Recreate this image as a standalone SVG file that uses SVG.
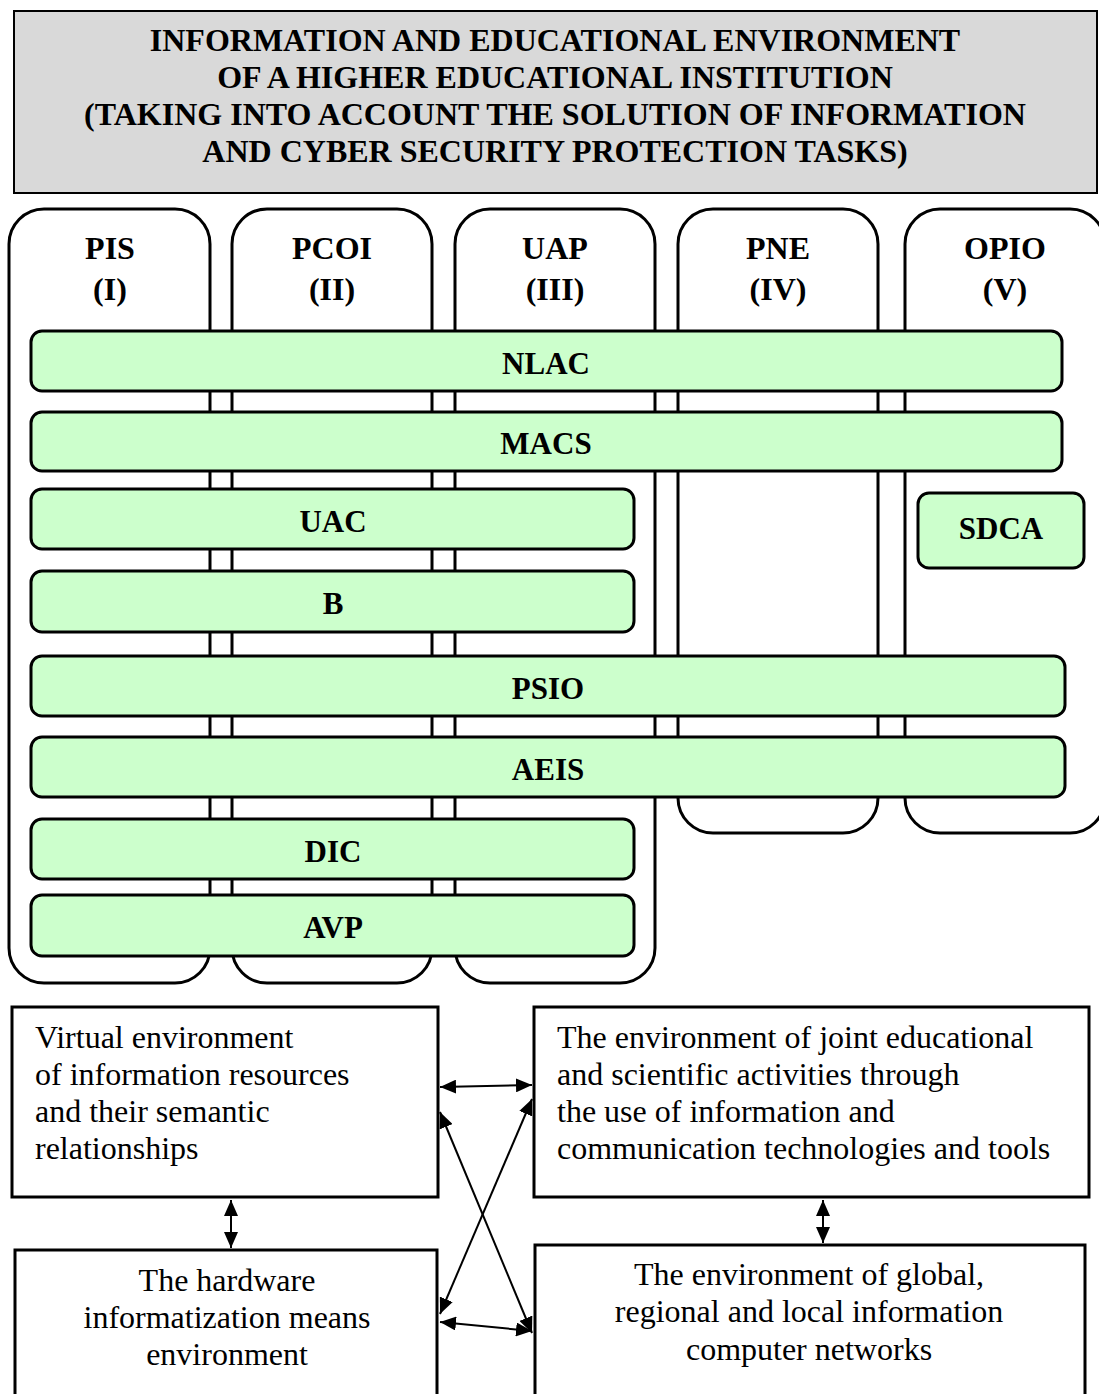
<svg xmlns="http://www.w3.org/2000/svg" width="1099" height="1394" viewBox="0 0 1099 1394">
<style>
.hdr{fill:#d9d9d9;stroke:#000;stroke-width:2}
.col{fill:#fff;stroke:#000;stroke-width:3}
.bar{fill:#ccffcc;stroke:#000;stroke-width:3}
.box{fill:#fff;stroke:#000;stroke-width:3}
.tb{font-family:"Liberation Serif","Times New Roman",serif;font-weight:bold;font-size:32px;fill:#000;text-anchor:middle}
.bl{font-family:"Liberation Serif","Times New Roman",serif;font-weight:bold;font-size:31px;fill:#000;text-anchor:middle}
.tr{font-family:"Liberation Serif","Times New Roman",serif;font-size:32px;fill:#000}
.c{text-anchor:middle}
.con{stroke:#000;stroke-width:2;fill:none;marker-start:url(#ah);marker-end:url(#ah)}
</style>
<defs>
<marker id="ah" viewBox="0 0 16 14" refX="16" refY="7" markerWidth="16" markerHeight="14" markerUnits="userSpaceOnUse" orient="auto-start-reverse">
<path d="M0,0 L16,7 L0,14 z" fill="#000"/>
</marker>
</defs>
<rect width="1099" height="1394" fill="#fff"/>

<g id="header">
<rect class="hdr" x="14" y="11" width="1083" height="182"/>
<text class="tb" x="555" y="51">INFORMATION AND EDUCATIONAL ENVIRONMENT</text>
<text class="tb" x="555" y="88">OF A HIGHER EDUCATIONAL INSTITUTION</text>
<text class="tb" x="555" y="125">(TAKING INTO ACCOUNT THE SOLUTION OF INFORMATION</text>
<text class="tb" x="555" y="162">AND CYBER SECURITY PROTECTION TASKS)</text>
</g>

<g id="col-pis">
<rect class="col" x="9" y="209" width="201" height="774" rx="35" ry="35"/>
<text class="tb" x="110" y="259">PIS</text>
<text class="tb" x="110" y="300">(I)</text>
</g>
<g id="col-pcoi">
<rect class="col" x="232" y="209" width="200" height="774" rx="35" ry="35"/>
<text class="tb" x="332" y="259">PCOI</text>
<text class="tb" x="332" y="300">(II)</text>
</g>
<g id="col-uap">
<rect class="col" x="455" y="209" width="200" height="774" rx="35" ry="35"/>
<text class="tb" x="555" y="259">UAP</text>
<text class="tb" x="555" y="300">(III)</text>
</g>
<g id="col-pne">
<rect class="col" x="678" y="209" width="200" height="624" rx="35" ry="35"/>
<text class="tb" x="778" y="259">PNE</text>
<text class="tb" x="778" y="300">(IV)</text>
</g>
<g id="col-opio">
<rect class="col" x="905" y="209" width="200" height="624" rx="35" ry="35"/>
<text class="tb" x="1005" y="259">OPIO</text>
<text class="tb" x="1005" y="300">(V)</text>
</g>

<g id="bar-nlac">
<rect class="bar" x="31" y="331" width="1031" height="60" rx="11" ry="11"/>
<text class="bl" x="546" y="374">NLAC</text>
</g>
<g id="bar-macs">
<rect class="bar" x="31" y="412" width="1031" height="59" rx="11" ry="11"/>
<text class="bl" x="546" y="454">MACS</text>
</g>
<g id="bar-uac">
<rect class="bar" x="31" y="489" width="603" height="60" rx="11" ry="11"/>
<text class="bl" x="333" y="532">UAC</text>
</g>
<g id="bar-b">
<rect class="bar" x="31" y="571" width="603" height="61" rx="11" ry="11"/>
<text class="bl" x="333" y="614">B</text>
</g>
<g id="bar-sdca">
<rect class="bar" x="918" y="493" width="166" height="75" rx="11" ry="11"/>
<text class="bl" x="1001" y="539">SDCA</text>
</g>
<g id="bar-psio">
<rect class="bar" x="31" y="656" width="1034" height="60" rx="11" ry="11"/>
<text class="bl" x="548" y="699">PSIO</text>
</g>
<g id="bar-aeis">
<rect class="bar" x="31" y="737" width="1034" height="60" rx="11" ry="11"/>
<text class="bl" x="548" y="780">AEIS</text>
</g>
<g id="bar-dic">
<rect class="bar" x="31" y="819" width="603" height="60" rx="11" ry="11"/>
<text class="bl" x="333" y="862">DIC</text>
</g>
<g id="bar-avp">
<rect class="bar" x="31" y="895" width="603" height="61" rx="11" ry="11"/>
<text class="bl" x="333" y="938">AVP</text>
</g>

<g id="box-virtual">
<rect class="box" x="12" y="1007" width="426" height="190"/>
<text class="tr" x="35" y="1048">Virtual environment</text>
<text class="tr" x="35" y="1085">of information resources</text>
<text class="tr" x="35" y="1122">and their semantic</text>
<text class="tr" x="35" y="1159">relationships</text>
</g>
<g id="box-joint">
<rect class="box" x="534" y="1007" width="555" height="190"/>
<text class="tr" x="557" y="1048">The environment of joint educational</text>
<text class="tr" x="557" y="1085">and scientific activities through</text>
<text class="tr" x="557" y="1122">the use of information and</text>
<text class="tr" x="557" y="1159">communication technologies and tools</text>
</g>
<g id="box-hardware">
<rect class="box" x="15" y="1250" width="422" height="160"/>
<text class="tr c" x="227" y="1291">The hardware</text>
<text class="tr c" x="227" y="1328">informatization means</text>
<text class="tr c" x="227" y="1365">environment</text>
</g>
<g id="box-networks">
<rect class="box" x="535" y="1245" width="550" height="165"/>
<text class="tr c" x="809" y="1285">The environment of global,</text>
<text class="tr c" x="809" y="1322">regional and local information</text>
<text class="tr c" x="809" y="1360">computer networks</text>
</g>

<g id="connectors">
<line class="con" x1="440" y1="1087" x2="532" y2="1085"/>
<line class="con" x1="440" y1="1112" x2="532" y2="1333"/>
<line class="con" x1="440" y1="1314" x2="532" y2="1099"/>
<line class="con" x1="440" y1="1322" x2="532" y2="1331"/>
<line class="con" x1="231" y1="1200" x2="231" y2="1248"/>
<line class="con" x1="823" y1="1200" x2="823" y2="1243"/>
</g>
</svg>
